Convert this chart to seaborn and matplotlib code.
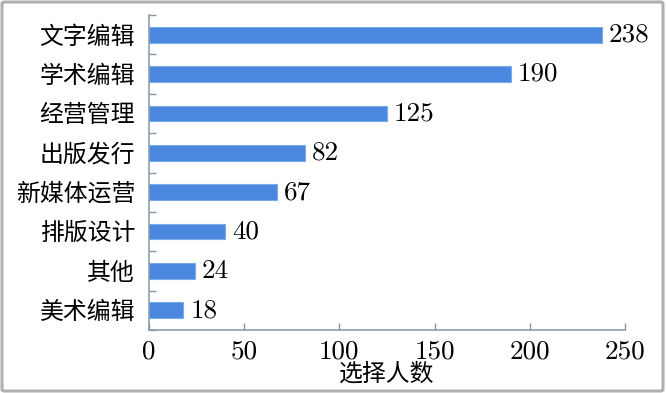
import matplotlib
matplotlib.use("Agg")
import matplotlib.pyplot as plt
import seaborn as sns
import pandas as pd
import numpy as np
from matplotlib.patches import FancyBboxPatch
import warnings
warnings.filterwarnings("ignore")

categories = ["文字编辑", "学术编辑", "经营管理", "出版发行", "新媒体运营", "排版设计", "其他", "美术编辑"]
values = [238, 190, 125, 82, 67, 40, 24, 18]
xticks = [0, 50, 100, 150, 200, 250]
xlabel = "选择人数"

sns.set_theme(style="white")
plt.rcParams['font.family'] = ['cmr10', 'Noto Sans CJK SC', 'DejaVu Sans']

num_fs = 19.5
cjk_fs = 17.2

df = pd.DataFrame({"cat": categories, "val": values})

fig = plt.figure(figsize=(6.66, 3.93), dpi=100)
ax = fig.add_axes([149/666, 63/393, (625-149)/666, (330-15)/393])

sns.barplot(data=df, y="cat", x="val", orient="h", color="#4A87DE", saturation=1,
            width=0.4, edgecolor="#7DAAEA", linewidth=0.8, ax=ax)

ax.set_xlim(0, 250)
ax.set_ylim(len(categories) - 0.5, -0.5)
ax.set_xticks(xticks)
ax.set_xticklabels([str(t) for t in xticks])
ax.set_yticks(range(len(categories)))
ax.set_yticklabels(categories)
ax.set_yticks(np.arange(-0.5, len(categories), 1.0), minor=True)

spine_c = "#8497A8"
for s in ["top", "right"]:
    ax.spines[s].set_visible(False)
for s in ["left", "bottom"]:
    ax.spines[s].set_color(spine_c)
    ax.spines[s].set_linewidth(1.1)

ax.tick_params(axis="y", which="major", length=0, pad=10, labelsize=cjk_fs, colors="black")
ax.tick_params(axis="y", which="minor", length=5, width=1, direction="in", color=spine_c, left=True)
ax.tick_params(axis="x", which="major", length=5, width=1, direction="in", color=spine_c,
               pad=7, labelsize=num_fs, labelcolor="black", bottom=True)

for c in ax.containers:
    ax.bar_label(c, labels=[str(v) for v in values], padding=5, fontsize=num_fs, color="black")

ax.set_xlabel(xlabel, fontsize=cjk_fs, labelpad=0, color="black")
ax.set_ylabel("")
ax.grid(False)

border = FancyBboxPatch((2/666, 2/393), 661/666, 389/393, boxstyle="round,pad=0,rounding_size=0.004",
                        transform=fig.transFigure, fill=False, edgecolor="#B0B0B0", linewidth=2.2)
fig.patches.append(border)

fig.savefig("out.png", dpi=100)
